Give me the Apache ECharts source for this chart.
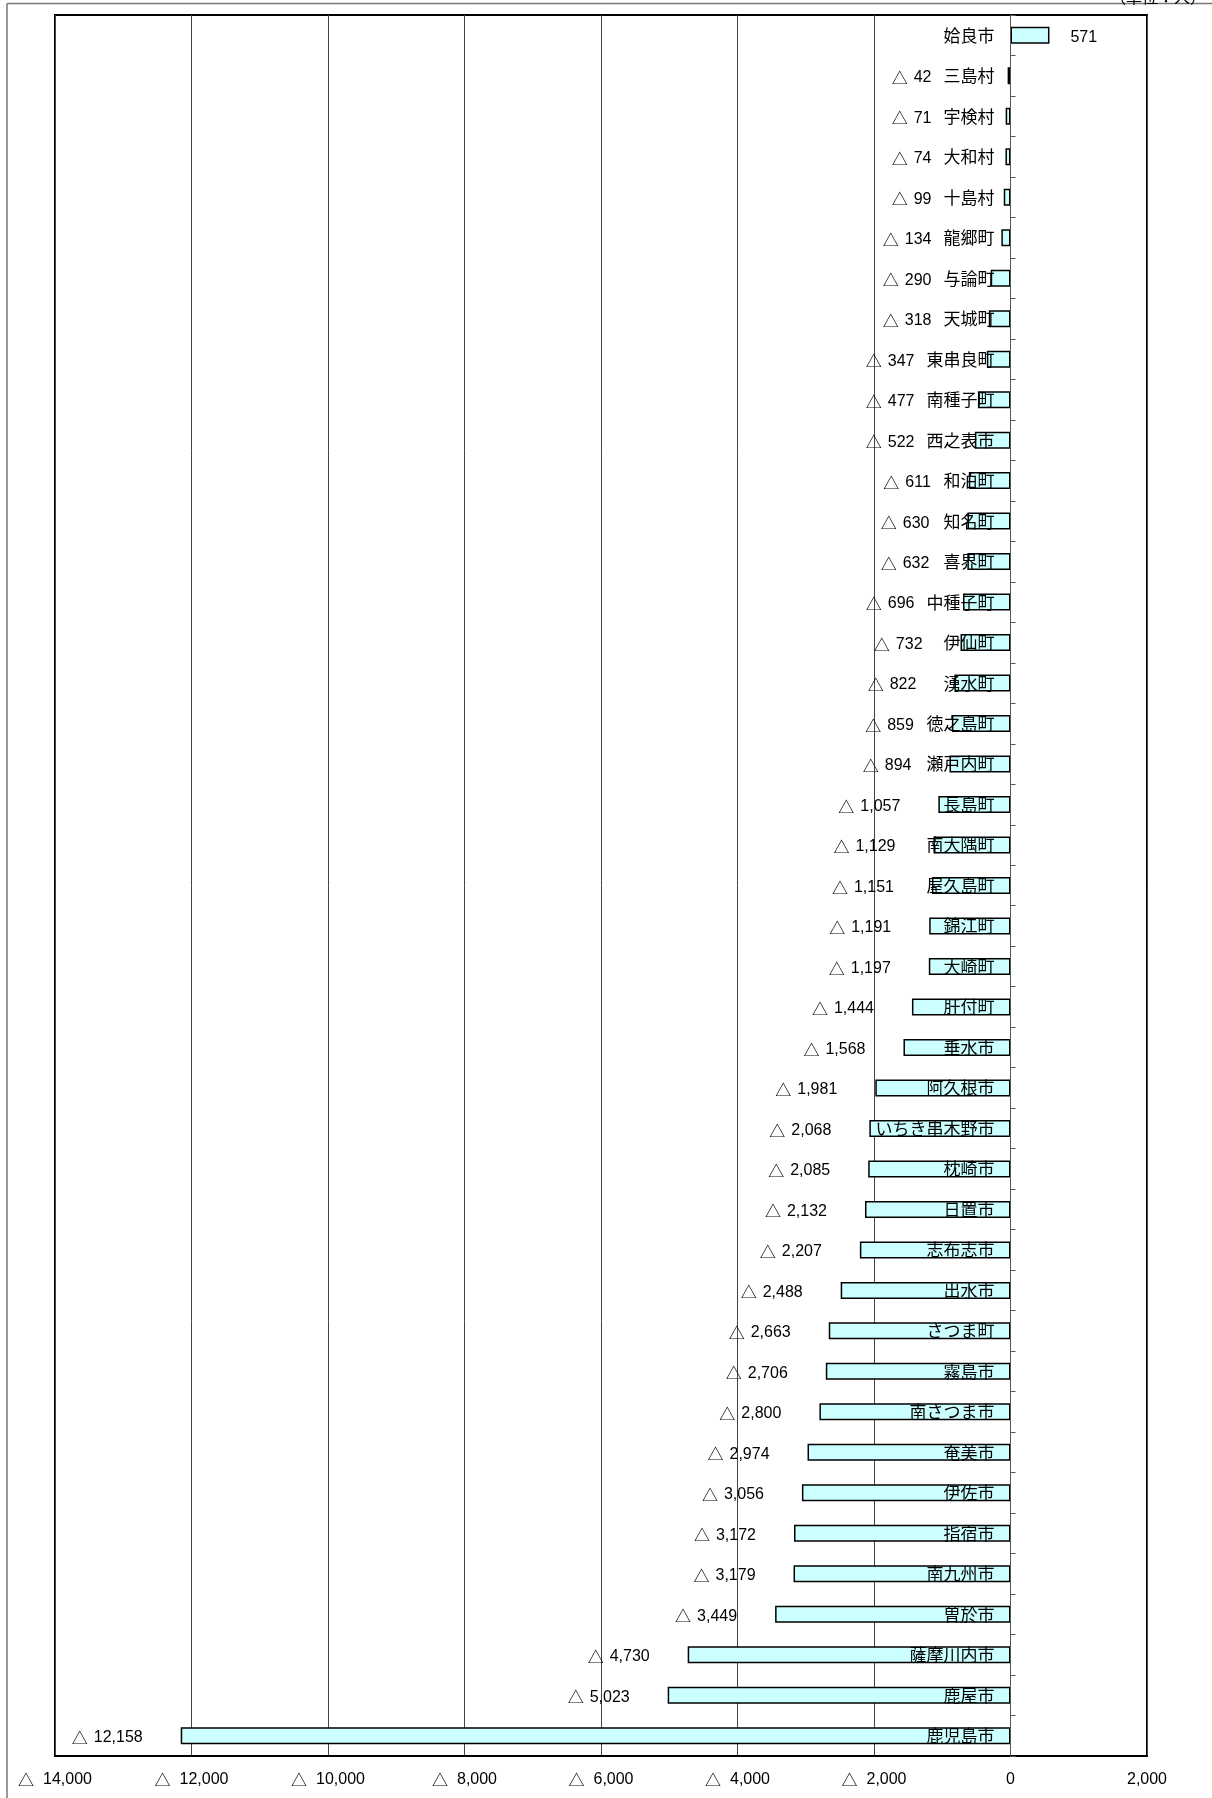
<!DOCTYPE html>
<html>
<head>
<meta charset="utf-8">
<script src="https://cdn.jsdelivr.net/npm/echarts@6/dist/echarts.min.js"></script>
<style>
html,body{margin:0;padding:0;background:#fff;}
#chart{width:1212px;height:1798px;}
</style>
</head>
<body>
<div id="chart"></div>
<script>
// ---- data (top to bottom) ----
const municipalities = [
  '姶良市','三島村','宇検村','大和村','十島村','龍郷町','与論町','天城町','東串良町','南種子町',
  '西之表市','和泊町','知名町','喜界町','中種子町','伊仙町','湧水町','徳之島町','瀬戸内町','長島町',
  '南大隅町','屋久島町','錦江町','大崎町','肝付町','垂水市','阿久根市','いちき串木野市','枕崎市','日置市',
  '志布志市','出水市','さつま町','霧島市','南さつま市','奄美市','伊佐市','指宿市','南九州市','曽於市',
  '薩摩川内市','鹿屋市','鹿児島市'
];
const populationChange = [
  571,-42,-71,-74,-99,-134,-290,-318,-347,-477,
  -522,-611,-630,-632,-696,-732,-822,-859,-894,-1057,
  -1129,-1151,-1191,-1197,-1444,-1568,-1981,-2068,-2085,-2132,
  -2207,-2488,-2663,-2706,-2800,-2974,-3056,-3172,-3179,-3449,
  -4730,-5023,-12158
];
const axisMin = -14000;
const axisMax = 2000;
const axisStep = 2000;
const unitText = '（単位：人）';

function richFmt(v) {
  const s = Math.abs(v).toLocaleString('en-US');
  return v < 0 ? '{t|△}{n|' + s + '}' : '{n|' + s + '}';
}

const cjkFont = '"Noto Sans CJK JP"';
const numFont = '"Liberation Sans", Arial, sans-serif';
const nameMargin = 16;
const nameSize = 17;

const chart = echarts.init(document.getElementById('chart'), null, {renderer: 'canvas'});

function seriesData(dists) {
  return populationChange.map((v, i) => ({
    value: v,
    label: {
      position: v < 0 ? 'left' : 'right',
      distance: dists ? dists[i] : 10
    }
  }));
}

const option = {
  animation: false,
  backgroundColor: '#fff',
  grid: {
    left: 55, right: 65, top: 15, bottom: 42,
    show: true, borderColor: '#000', borderWidth: 2,
    containLabel: false, outerBoundsMode: 'none'
  },
  xAxis: {
    type: 'value',
    min: axisMin, max: axisMax, interval: axisStep,
    axisLine: {show: true, onZero: false, lineStyle: {color: '#000', width: 2}},
    axisTick: {show: false},
    splitLine: {show: true, lineStyle: {color: '#444', width: 1}},
    axisLabel: {
      formatter: richFmt, margin: 14, color: '#000',
      rich: {
        t: {fontFamily: cjkFont, fontSize: 16, lineHeight: 20, verticalAlign: 'middle', color: '#000', padding: [0, 9, 0, 0]},
        n: {fontFamily: numFont, fontSize: 16, lineHeight: 20, verticalAlign: 'middle', color: '#000'}
      }
    }
  },
  yAxis: {
    type: 'category',
    inverse: true,
    position: 'left',
    offset: 0,
    data: municipalities,
    z: 10,
    axisLine: {show: true, onZero: false, lineStyle: {color: '#555', width: 1}},
    axisTick: {show: true, inside: true, length: 5, lineStyle: {color: '#555'}},
    axisLabel: {
      margin: nameMargin, fontSize: nameSize, color: '#000', fontFamily: cjkFont,
      interval: 0
    },
    splitLine: {show: false}
  },
  graphic: [
    {type: 'line', shape: {x1: 7, y1: 3.5, x2: 1212, y2: 3.5}, style: {stroke: '#777', lineWidth: 1.5}},
    {type: 'line', shape: {x1: 7, y1: 3.5, x2: 7, y2: 1798}, style: {stroke: '#777', lineWidth: 1.5}},
    {type: 'text', left: 1110, top: -11, style: {text: unitText, fill: '#000', font: '16px "Noto Sans CJK JP"'}}
  ],
  series: [{
    type: 'bar',
    data: seriesData(null),
    barWidth: '42%',
    itemStyle: {color: '#CCFFFF', borderColor: '#000', borderWidth: 1.5},
    label: {
      show: true,
      offset: [0, 2],
      formatter: p => richFmt(p.value),
      color: '#000',
      rich: {
        t: {fontFamily: cjkFont, fontSize: 16, lineHeight: 20, verticalAlign: 'middle', color: '#000', padding: [0, 6, 0, 0]},
        n: {fontFamily: numFont, fontSize: 16, lineHeight: 20, verticalAlign: 'middle', color: '#000'}
      }
    }
  }]
};
chart.setOption(option);

// move the category axis onto the zero line of the value axis
const zeroPx = chart.convertToPixel({xAxisIndex: 0}, 0);
const leftPx = chart.convertToPixel({xAxisIndex: 0}, axisMin);

// place value labels: left of bar end, but kept clear of the category name
const ctx = document.createElement('canvas').getContext('2d');
ctx.font = nameSize + 'px "Noto Sans CJK JP"';
const dists = populationChange.map((v, i) => {
  if (v >= 0) return 21;
  const barEnd = chart.convertToPixel({xAxisIndex: 0}, v);
  const nameLeft = zeroPx - nameMargin - ctx.measureText(municipalities[i]).width;
  const target = Math.min(barEnd - 38, nameLeft - 12);
  return Math.max(4, barEnd - target);
});
chart.setOption({
  yAxis: {offset: -(zeroPx - leftPx)},
  series: [{data: seriesData(dists)}]
});
</script>
</body>
</html>
